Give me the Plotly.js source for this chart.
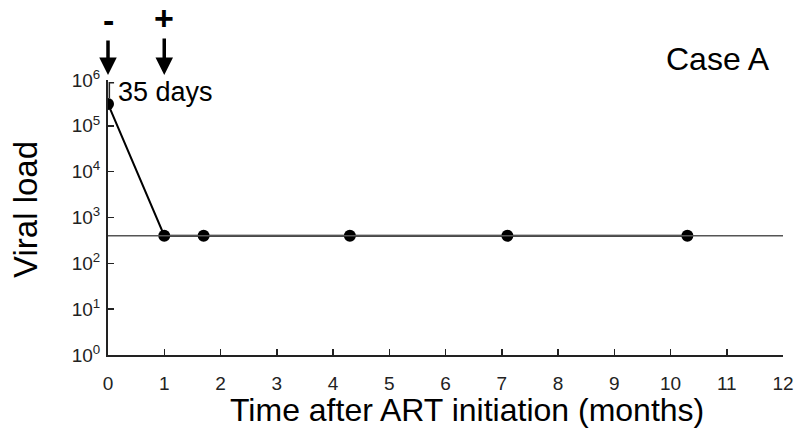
<!DOCTYPE html>
<html><head><meta charset="utf-8">
<script src="https://cdn.plot.ly/plotly-3.0.1.min.js"></script>
<style>html,body{margin:0;padding:0;background:#fff}</style>
</head><body>
<div id="chart" style="width:798px;height:440px"></div>
<script>
const months = [0, 1, 1.7, 4.3, 7.1, 10.3];
const viralLoad = [300000, 400, 400, 400, 400, 400];
const detectionLimit = 400;
const xTicks = [0,1,2,3,4,5,6,7,8,9,10,11,12];
const yTickVals = [1, 10, 100, 1000, 10000, 100000, 1000000];
const yTickText = ['10<sup>0</sup>','10<sup>1</sup>','10<sup>2</sup>','10<sup>3</sup>','10<sup>4</sup>','10<sup>5</sup>','10<sup>6</sup>'];

const traces = [{
  x: months, y: viralLoad, type: 'scatter', mode: 'lines+markers',
  line: {color: '#000', width: 2},
  marker: {color: '#000', size: 12},
  showlegend: false, hoverinfo: 'skip'
}];

const tickFont = {size: 19, family: 'Liberation Sans, Arial, sans-serif', color: '#222'};
const layout = {
  width: 798, height: 440,
  margin: {l: 108, r: 15, t: 80, b: 85},
  paper_bgcolor: '#fff', plot_bgcolor: '#fff',
  font: {family: 'Liberation Sans, Arial, sans-serif', color: '#000'},
  xaxis: {
    range: [0, 12], tickvals: xTicks, ticktext: xTicks.map(String),
    showgrid: false, zeroline: false, showline: true, linecolor: '#222', linewidth: 2,
    ticks: 'inside', ticklen: 6, tickwidth: 1.5, tickcolor: '#222',
    ticklabelstandoff: 10,
    tickfont: tickFont
  },
  yaxis: {
    type: 'log', range: [0, 6], tickvals: yTickVals, ticktext: yTickText,
    showgrid: false, zeroline: false, showline: true, linecolor: '#222', linewidth: 2,
    ticks: 'inside', ticklen: 6, tickwidth: 1.5, tickcolor: '#222',
    ticklabelstandoff: 2,
    tickfont: tickFont
  },
  shapes: [
    {type: 'line', xref: 'x', yref: 'y', x0: 0, x1: 12.05, y0: detectionLimit, y1: detectionLimit,
     line: {color: '#555', width: 1.5}},
    {type: 'path', xref: 'paper', yref: 'paper', path: 'M 0.002 0.935 L 0.002 0.99 L 0.009 0.99',
     line: {color: '#222', width: 1.5}}
  ],
  annotations: [
    {x: 0.532, y: -0.2, xref: 'paper', yref: 'paper', text: 'Time after ART initiation (months)',
     showarrow: false, xanchor: 'center', yanchor: 'middle', font: {size: 32, color: '#000'}},
    {x: -0.122, y: 0.53, xref: 'paper', yref: 'paper', text: 'Viral load', textangle: -90,
     showarrow: false, xanchor: 'center', yanchor: 'middle', font: {size: 33, color: '#000'}},
    {x: 0, y: 1.018, xref: 'x', yref: 'paper', text: '<b>-</b>', showarrow: true,
     ax: 0, ay: -55, arrowhead: 2, arrowsize: 1, arrowwidth: 3.5, arrowcolor: '#000',
     font: {size: 34, color: '#000'}},
    {x: 1, y: 1.018, xref: 'x', yref: 'paper', text: '<b>+</b>', showarrow: true,
     ax: 0, ay: -57, arrowhead: 2, arrowsize: 1, arrowwidth: 3.5, arrowcolor: '#000',
     font: {size: 34, color: '#000'}},
    {x: 0, y: 0.955, xref: 'x', yref: 'paper', text: '35 days', showarrow: false,
     xanchor: 'left', yanchor: 'middle', xshift: 8, font: {size: 27, color: '#000'}},
    {x: 0.984, y: 1.075, xref: 'paper', yref: 'paper', text: 'Case A', showarrow: false,
     xanchor: 'right', yanchor: 'middle', font: {size: 32, color: '#000'}}
  ]
};
Plotly.newPlot('chart', traces, layout, {displayModeBar: false, staticPlot: true});
</script>
</body></html>
